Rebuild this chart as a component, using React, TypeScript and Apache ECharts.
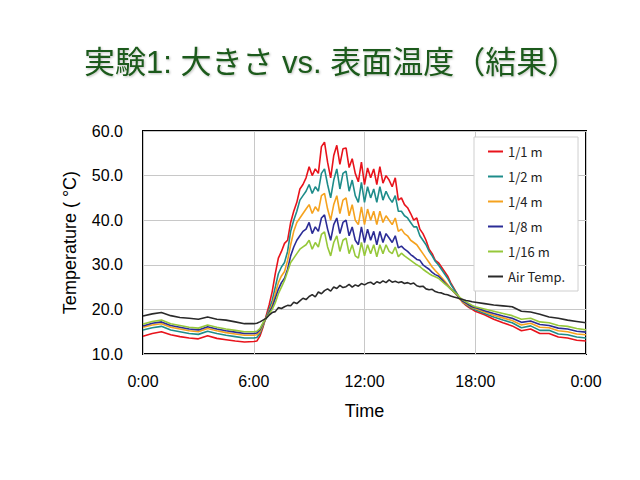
import React, { useEffect, useRef } from "react";
import * as echarts from "echarts";

// Sample times (hours): 30-min at night, 10-min during the day
const TIME_AM = Array.from({ length: 12 }, (_, i) => i * 0.5);
const TIME_DAY = Array.from({ length: 72 }, (_, i) => 6 + i / 6);
const TIME_PM = Array.from({ length: 13 }, (_, i) => 18 + i * 0.5);
const TIMES = [...TIME_AM, ...TIME_DAY, ...TIME_PM];

const SERIES_NAMES = ["1/1 m", "1/2 m", "1/4 m", "1/8 m", "1/16 m", "Air Temp."];
const X_TICKS = [0, 6, 12, 18, 24];

const red = [
  14.0, 14.6, 15.0, 14.3, 13.9, 13.6, 13.4, 14.1, 13.5, 13.2, 12.9, 12.7,
  12.8, 12.9, 14.0, 16.0, 18.5, 21.0,
  24.0, 28.0, 31.5, 33.0, 34.8, 35.5,
  39.5, 42.0, 44.0, 47.0, 48.0, 49.5,
  52.0, 50.0, 51.5, 50.5, 56.5, 57.5,
  53.0, 49.5, 54.5, 56.8, 52.5, 56.0,
  56.2, 51.8, 53.8, 50.5, 48.6, 53.0,
  48.0, 51.7, 49.5, 51.5, 48.0, 52.0,
  48.3, 50.0, 49.0, 47.5, 49.5, 44.5,
  45.0, 43.5, 42.8, 41.5, 40.0, 40.5,
  38.0, 37.0, 35.5, 33.5, 32.5, 31.0,
  30.5, 29.5, 28.5, 27.5, 26.0, 24.8,
  23.6, 22.4, 21.5, 20.9, 20.4, 20.0,
  19.6, 18.8, 17.8, 17.0, 16.3, 15.2, 15.6, 14.6, 14.6, 13.8, 13.6, 13.1, 12.9,
];

const teal = [
  15.4, 15.9, 16.2, 15.4, 15.0, 14.6, 14.4, 15.1, 14.6, 14.2, 13.9, 13.6,
  13.6, 13.7, 14.6, 16.3, 18.2, 20.0,
  22.0, 25.0, 28.0, 29.5, 30.5, 33.0,
  37.5, 40.0, 42.0, 44.5, 45.5, 46.5,
  48.0, 46.0, 47.5, 46.5, 50.5, 51.5,
  48.0, 45.0, 49.0, 51.5, 47.0, 50.5,
  51.0, 46.5, 49.0, 45.5, 44.0, 48.5,
  44.0, 47.5, 45.0, 47.0, 44.0, 47.5,
  44.5, 46.5, 45.0, 44.0, 45.5, 42.0,
  42.0, 41.0, 40.5, 39.5, 38.5, 38.5,
  36.5, 35.5, 34.5, 33.0, 32.0, 30.8,
  30.0, 29.0, 28.0, 27.0, 25.7, 24.6,
  23.6, 22.4, 21.6, 21.1, 20.6, 20.2,
  19.9, 19.1, 18.3, 17.6, 17.0, 15.9, 16.3, 15.3, 15.3, 14.5, 14.3, 13.8, 13.6,
];

const orange = [
  16.0, 16.5, 16.8, 16.0, 15.6, 15.2, 15.0, 15.7, 15.2, 14.8, 14.5, 14.2,
  14.2, 14.3, 15.0, 16.6, 18.0, 19.5,
  21.0, 23.5, 26.0, 27.5, 28.5, 31.0,
  34.5, 37.5, 39.5, 40.5, 41.5, 42.5,
  43.5, 41.5, 43.0, 42.0, 45.5, 46.0,
  42.5, 40.0, 43.5, 45.5, 41.5, 44.5,
  45.0, 41.0, 43.5, 40.0, 39.0, 43.0,
  39.0, 42.5, 40.0, 42.0, 39.0, 42.0,
  39.5, 41.0, 40.0, 39.0, 40.5, 37.5,
  38.0, 37.0, 36.5, 35.5, 35.0, 34.5,
  33.5, 32.5, 31.5, 30.5, 29.5, 28.7,
  28.0, 27.2, 26.4, 25.6, 24.7, 23.9,
  23.2, 22.3, 21.6, 21.2, 20.8, 20.4,
  20.2, 19.4, 18.7, 18.1, 17.5, 16.5, 16.9, 16.0, 15.9, 15.2, 15.0, 14.5, 14.3,
];

const blue = [
  16.3, 16.9, 17.2, 16.4, 16.0, 15.6, 15.4, 16.1, 15.6, 15.2, 14.9, 14.6,
  14.6, 14.7, 15.4, 16.8, 18.0, 19.3,
  20.5, 22.5, 24.5, 26.0, 27.0, 29.0,
  32.0, 34.0, 35.5, 36.5, 37.5, 38.0,
  39.5, 37.0, 38.5, 37.5, 40.5, 41.2,
  38.0, 35.5, 39.0, 40.5, 37.0, 39.5,
  40.0, 36.5, 38.5, 35.5, 34.5, 38.5,
  35.0, 38.0, 35.5, 37.5, 34.5, 37.5,
  35.0, 37.0, 36.0, 35.0, 36.5, 33.8,
  34.2, 33.5, 33.0, 32.3, 31.8, 31.2,
  31.0, 30.0, 29.5, 29.0, 28.3, 27.8,
  27.5, 26.8, 26.0, 25.3, 24.6, 24.0,
  23.3, 22.5, 21.8, 21.4, 21.0, 20.6,
  20.4, 19.7, 19.1, 18.5, 18.0, 17.1, 17.4, 16.6, 16.4, 15.8, 15.6, 15.1, 14.9,
];

const green = [
  16.7, 17.3, 17.6, 16.8, 16.4, 16.0, 15.8, 16.5, 16.0, 15.6, 15.3, 15.0,
  15.0, 15.1, 15.7, 17.0, 18.0, 19.0,
  20.0, 21.5, 23.5, 25.0, 26.5, 28.5,
  30.5, 31.5, 32.5, 33.5, 34.0, 34.5,
  35.5, 33.5, 35.0, 34.0, 36.8, 37.4,
  34.0, 32.0, 35.0, 36.5, 33.0, 35.5,
  36.0, 32.5, 34.5, 32.0, 31.5, 35.0,
  32.0, 34.5, 32.5, 34.5, 31.8, 34.5,
  32.5, 34.5, 33.0, 32.5, 34.0, 31.8,
  32.6, 32.0, 31.5, 31.0, 30.5, 30.0,
  29.6, 29.0, 28.5, 28.0, 27.6, 27.3,
  27.0, 26.4, 25.8, 25.2, 24.6, 24.0,
  23.4, 22.7, 22.1, 21.7, 21.3, 20.9,
  20.6, 20.1, 19.6, 19.1, 18.6, 17.8, 18.0, 17.2, 17.0, 16.4, 16.2, 15.7, 15.4,
];

const air = [
  18.5, 19.0, 19.3, 18.6, 18.2, 18.0, 17.8, 18.3, 17.8, 17.6, 17.2, 16.8,
  16.8, 16.9, 17.2, 17.6, 18.0, 18.7,
  19.3, 19.5, 20.4, 20.2, 20.6, 20.9,
  20.8, 21.6, 21.3, 21.9, 22.5, 22.2,
  22.9, 23.3, 22.8, 23.9, 23.5, 24.2,
  24.6, 24.1, 25.0, 24.7, 25.4, 24.9,
  25.1, 25.6, 25.0, 25.5, 25.2, 25.8,
  25.5, 25.9, 26.1, 25.6, 26.2, 25.9,
  26.4, 26.0, 26.6, 26.1, 26.3, 26.0,
  26.2, 25.8, 26.0, 25.7, 25.9, 25.3,
  25.1, 25.2, 24.6, 24.4, 24.5, 24.0,
  23.8, 23.7, 23.4, 23.3, 23.0, 22.8,
  22.6, 22.4, 22.2, 22.0, 21.9, 21.7,
  21.6, 21.3, 21.0, 20.8, 20.6, 19.6, 19.4, 18.9, 18.3, 18.0, 17.6, 17.3, 17.0,
];

const VALUES = [red, teal, orange, blue, green, air];
const COLORS = ["#e8131b", "#1e8c8a", "#f5a21e", "#2b2c96", "#96c83a", "#2a2a2a"];

export default function App() {
  const ref = useRef<HTMLDivElement>(null);
  useEffect(() => {
    document.body.style.margin = "0";
    const chart = echarts.init(ref.current!, undefined, { renderer: "svg" });
    const latin = "'Liberation Sans', Arial, sans-serif";
    const axisFont = { color: "#000", fontSize: 16, fontFamily: latin };
    chart.setOption({
      animation: false,
      backgroundColor: "#fff",
      title: {
        text: "実験1: 大きさ vs. 表面温度（結果）",
        left: 79,
        top: 42,
        textStyle: {
          color: "#1d5a1b",
          fontSize: 31,
          fontWeight: "normal",
          fontFamily: "'Liberation Sans', 'Noto Sans CJK JP', sans-serif",
          textShadowColor: "rgba(0,0,0,0.25)",
          textShadowBlur: 2,
          textShadowOffsetX: 1,
          textShadowOffsetY: 1,
        },
      },
      grid: {
        left: 143,
        right: 54,
        top: 131,
        bottom: 126,
        show: true,
        borderColor: "#000",
        borderWidth: 2,
        backgroundColor: "transparent",
      },
      legend: {
        orient: "vertical",
        left: 474,
        top: 137,
        data: SERIES_NAMES,
        backgroundColor: "#fff",
        borderColor: "#cfcfcf",
        borderWidth: 1,
        padding: [8, 13, 8, 14],
        itemGap: 12,
        itemWidth: 15,
        itemHeight: 2,
        icon: "rect",
        textStyle: { color: "#222", fontSize: 13, fontFamily: "'Noto Sans CJK JP', sans-serif" },
      },
      xAxis: {
        type: "value",
        min: 0,
        max: 24,
        interval: 6,
        name: "Time",
        nameLocation: "middle",
        nameGap: 48,
        nameTextStyle: { color: "#000", fontSize: 18, fontFamily: latin },
        axisLine: { show: false },
        axisTick: { show: false },
        axisLabel: {
          ...axisFont,
          margin: 19,
          formatter: (v: number) => (X_TICKS.includes(v) ? `${v % 24}:00` : ""),
        },
        splitLine: { show: true, lineStyle: { color: "#c8c8c8", width: 1 } },
      },
      yAxis: {
        type: "value",
        min: 10,
        max: 60,
        interval: 10,
        name: "Temperature ( °C)",
        nameLocation: "middle",
        nameGap: 64,
        nameTextStyle: { color: "#000", fontSize: 18, fontFamily: latin },
        axisLine: { show: false },
        axisTick: { show: false },
        axisLabel: { ...axisFont, margin: 20, formatter: (v: number) => v.toFixed(1) },
        splitLine: { show: true, lineStyle: { color: "#c8c8c8", width: 1 } },
      },
      series: SERIES_NAMES.map((name, i) => ({
        name,
        type: "line",
        showSymbol: false,
        symbol: "none",
        color: COLORS[i],
        lineStyle: { width: 1.6, color: COLORS[i] },
        data: TIMES.map((t, k) => [t, VALUES[i][k]]),
        z: 2,
      })),
    });
    return () => chart.dispose();
  }, []);
  return <div ref={ref} style={{ width: 640, height: 480 }} />;
}
